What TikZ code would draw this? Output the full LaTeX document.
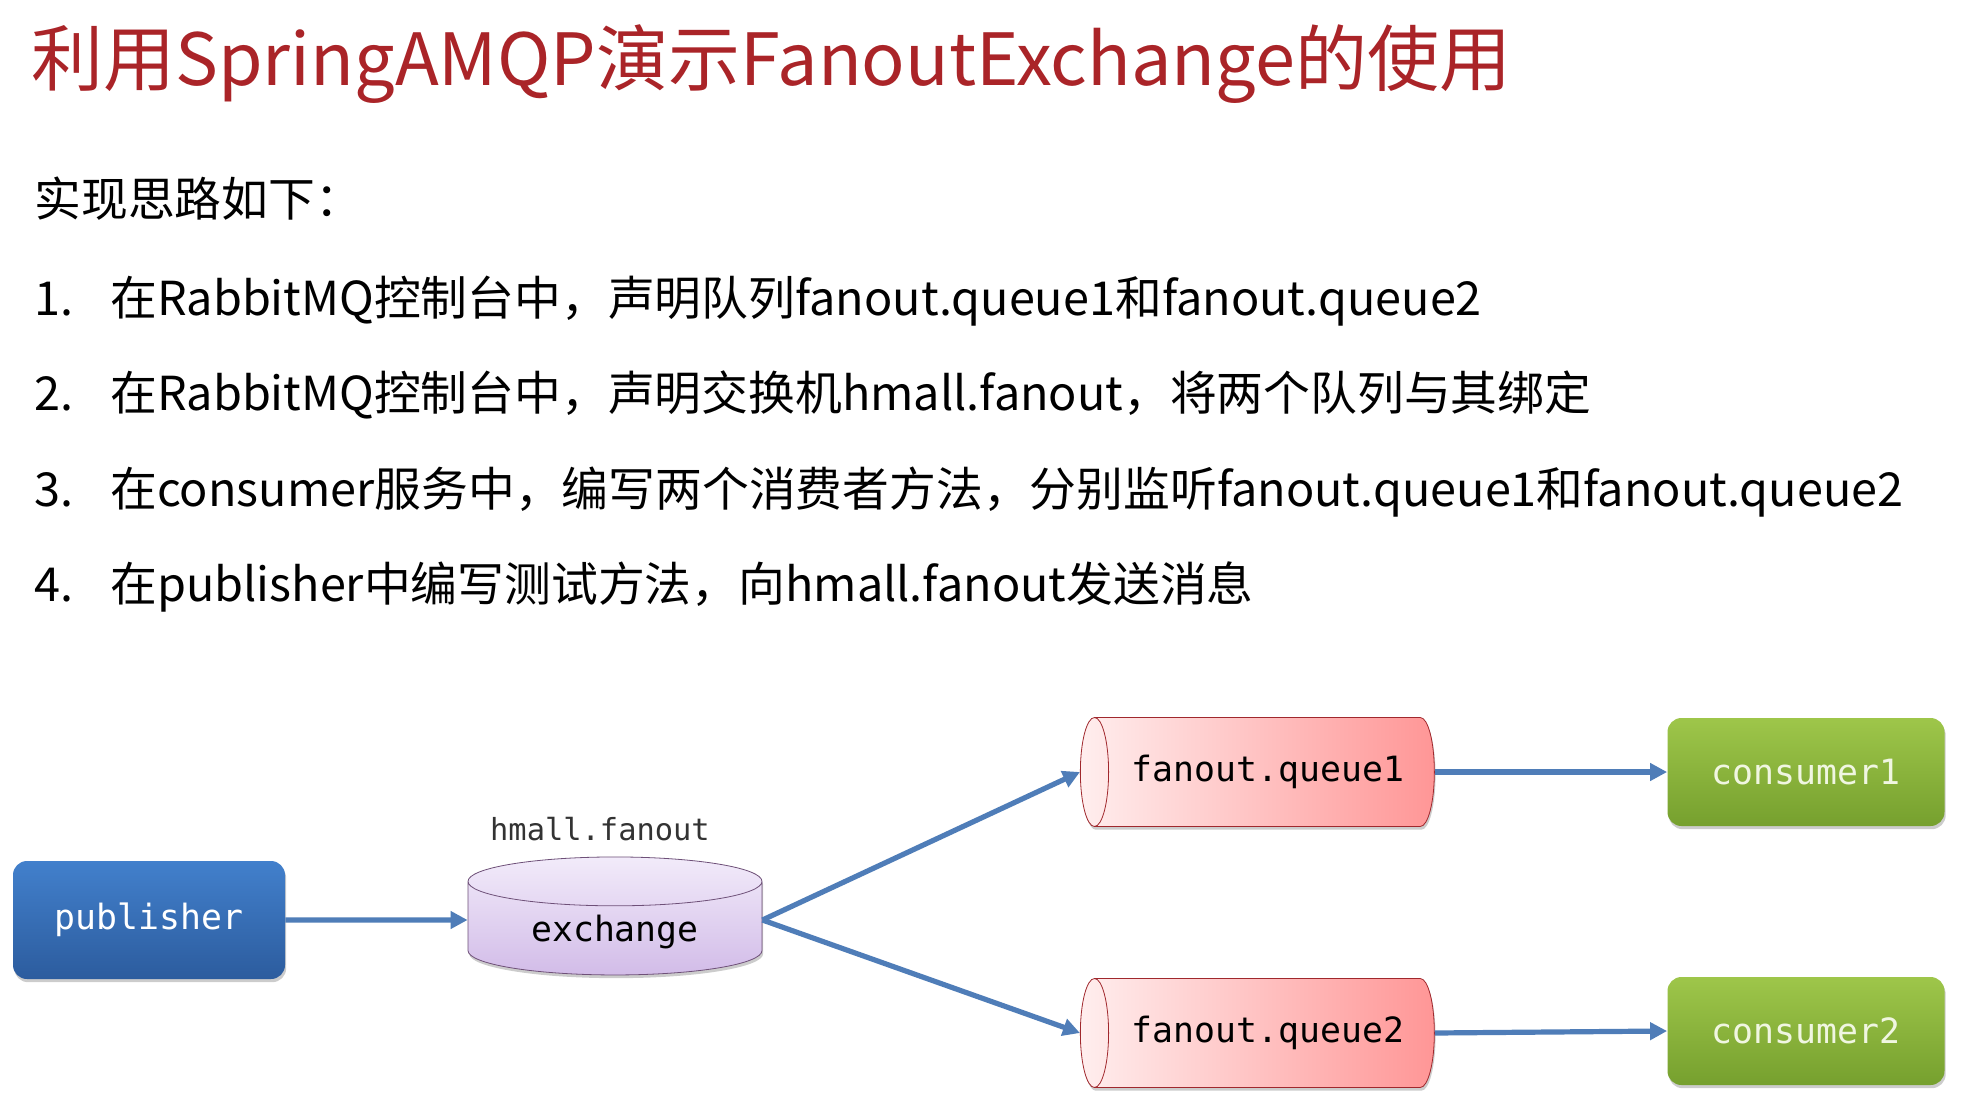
\documentclass[tikz,border=0pt]{standalone}
\usepackage{fontspec}
\setmainfont{Noto Sans CJK SC}
\setmonofont{DejaVu Sans Mono}
\usepackage{tikz}
\usetikzlibrary{shapes.geometric,arrows.meta,positioning,shadows}
\usepackage{xcolor}
\definecolor{titlered}{RGB}{170,36,40}
\definecolor{flowblue}{RGB}{79,125,184}
\definecolor{pubtop}{RGB}{66,128,204}
\definecolor{pubbot}{RGB}{44,92,158}
\definecolor{exctop}{RGB}{242,235,250}
\definecolor{excbot}{RGB}{210,188,232}
\definecolor{excline}{RGB}{110,80,120}
\definecolor{queleft}{RGB}{255,238,238}
\definecolor{queright}{RGB}{255,150,150}
\definecolor{queline}{RGB}{160,40,45}
\definecolor{contop}{RGB}{158,198,74}
\definecolor{conbot}{RGB}{118,160,46}
\definecolor{context}{RGB}{240,246,225}
\tikzset{
  softshadow/.style={drop shadow={shadow xshift=0.6pt,shadow yshift=-1.6pt,fill=black,opacity=0.2}},
  linetext/.style={anchor=base west,inner sep=0pt,font=\fontsize{23.4}{28}\selectfont},
  boxfont/.style={font=\ttfamily\fontsize{17.4}{20}\selectfont},
  flow/.style={draw=flowblue,line width=2.6pt,-{Triangle[length=8.5pt,width=8.5pt]}},
  bluebox/.style={rounded corners=7pt,top color=pubtop,bottom color=pubbot,softshadow,
    minimum width=136pt,minimum height=59pt,text=white,boxfont},
  greenbox/.style={rounded corners=7pt,top color=contop,bottom color=conbot,softshadow,
    minimum width=138.5pt,minimum height=54pt,text=context,boxfont},
  % cylinder: minimum height runs along the axis
  exdrum/.style={cylinder,shape border rotate=90,aspect=0.27,draw=excline,line width=0.4pt,
    top color=exctop,bottom color=excbot,softshadow,
    minimum width=147pt,minimum height=59pt,boxfont},
  queuedrum/.style={cylinder,shape border rotate=180,aspect=0.6,draw=queline,line width=0.4pt,
    left color=queleft,right color=queright,softshadow,
    minimum height=177pt,minimum width=54.5pt,boxfont}
}

\begin{document}
\begin{tikzpicture}[x=0.5pt,y=-0.5pt]
  \useasboundingbox (0,0) rectangle (1967,1099);
  \fill[white] (0,0) rectangle (1967,1099);

  % heading and steps
  \node (title) [anchor=base west,inner sep=0pt,text=titlered,
        font=\fontsize{36}{40}\selectfont] at (31,85)
        {利用SpringAMQP演示FanoutExchange的使用};
  \node (intro) [linetext] at (34,216) {实现思路如下：};
  \node (num1) [linetext] at (34,315) {1.};
  \node (step1) [linetext] at (110,315) {在RabbitMQ控制台中，声明队列fanout.queue1和fanout.queue2};
  \node (num2) [linetext] at (34,410) {2.};
  \node (step2) [linetext] at (110,410) {在RabbitMQ控制台中，声明交换机hmall.fanout，将两个队列与其绑定};
  \node (num3) [linetext] at (34,506) {3.};
  \node (step3) [linetext] at (110,506) {在consumer服务中，编写两个消费者方法，分别监听fanout.queue1和fanout.queue2};
  \node (num4) [linetext] at (34,601) {4.};
  \node (step4) [linetext] at (110,601) {在publisher中编写测试方法，向hmall.fanout发送消息};

  % diagram
  \node (publisher) [bluebox] at (149,920) {publisher};
  \node (exchange) [exdrum] at (615,932) {exchange};
  \node (exlabel) [font=\ttfamily\fontsize{15.2}{18}\selectfont,text=black!80] at (600,829) {hmall.fanout};
  \node (queue1) [queuedrum] at (1268,772) {fanout.queue1};
  \node (queue2) [queuedrum] at (1268,1033) {fanout.queue2};
  \node (consumer1) [greenbox] at (1806,772) {consumer1};
  \node (consumer2) [greenbox] at (1806,1031) {consumer2};

  % the drum's text sits below the middle of its body
  \draw[flow] (publisher.east) -- ([yshift=6pt]exchange.west);
  \draw[flow] ([yshift=6pt]exchange.east) -- (queue1.west);
  \draw[flow] ([yshift=6pt]exchange.east) -- (queue2.west);
  \draw[flow] (queue1.east) -- (consumer1.west);
  \draw[flow] (queue2.east) -- (consumer2.west);
\end{tikzpicture}
\end{document}
